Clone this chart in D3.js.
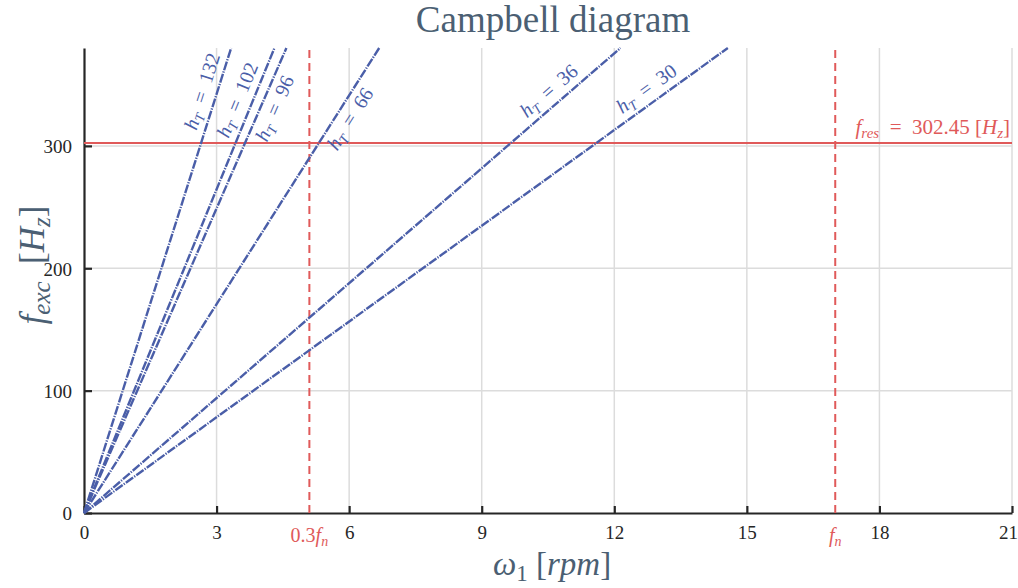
<!DOCTYPE html>
<html>
<head>
<meta charset="utf-8">
<script src="https://cdn.jsdelivr.net/npm/d3@7"></script>
<style>
body { margin: 0; background: #fff; }
svg { display: block; }
</style>
</head>
<body>
<svg id="chart"></svg>
<script>
// harmonic order of each excitation line and where it leaves the top of the plot
let harmonics = [132, 102, 96, 66, 36, 30]
let topSpeed = [3.33, 4.31, 4.58, 6.68, 12.14, 14.57]
let labelFreq = [341, 333, 335, 328, 336, 337]
let labelSide = ['left', 'left', 'right', 'right', 'left', 'left']

let xTicks = [0, 3, 6, 9, 12, 15, 18, 21]
let yTicks = [0, 100, 200, 300]

let speedMarks = [5.1, 17]
let speedMarkLabels = [['0.3', 'f', 'n'], ['', 'f', 'n']]
let fRes = 302.45

let width = 1018
let height = 588
let margin = {top: 48, right: 6, bottom: 75, left: 84}

let blue = '#4a5ea8'
let red = '#e05a5a'
let slate = '#4b5f73'
let font = "'Liberation Serif', 'DejaVu Serif', serif"
let sp = '\u2002'

let svg = d3.select('#chart')
    .attr('width', width)
    .attr('height', height)
    .style('font-family', font)

let xScale = d3.scaleLinear().domain([0, 21]).range([margin.left, width - margin.right])
let yScale = d3.scaleLinear().domain([0, 380]).range([height - margin.bottom, margin.top])

// grid
svg.append('g')
   .selectAll('line')
   .data(xTicks.filter(d => d > 0))
   .enter()
   .append('line')
   .attr('x1', d => xScale(d)).attr('x2', d => xScale(d))
   .attr('y1', yScale(0)).attr('y2', yScale(380))
   .attr('stroke', '#dcdcdc').attr('stroke-width', 1.5)

svg.append('g')
   .selectAll('line')
   .data(yTicks.filter(d => d > 0))
   .enter()
   .append('line')
   .attr('x1', xScale(0)).attr('x2', xScale(21))
   .attr('y1', d => yScale(d)).attr('y2', d => yScale(d))
   .attr('stroke', '#dcdcdc').attr('stroke-width', 1.5)

// axes
let xAxis = d3.axisBottom(xScale).tickValues(xTicks).tickSizeInner(-7).tickSizeOuter(0).tickPadding(13)
let yAxis = d3.axisLeft(yScale).tickValues(yTicks).tickSizeInner(-8).tickSizeOuter(0).tickPadding(12)

let gx = svg.append('g')
    .attr('transform', 'translate(0,' + yScale(0) + ')')
    .call(xAxis)
let gy = svg.append('g')
    .attr('transform', 'translate(' + xScale(0) + ',0)')
    .call(yAxis)

;[gx, gy].forEach(g => {
    g.select('.domain').attr('stroke', '#262626').attr('stroke-width', 2.2)
    g.selectAll('.tick line').attr('stroke', '#262626').attr('stroke-width', 2.2)
    g.selectAll('.tick text')
     .attr('fill', '#262626')
     .style('font-family', font)
     .style('font-size', '19px')
})
gx.selectAll('.tick text').attr('dy', '0.71em')
gx.selectAll('.tick text').filter(d => d == 21).attr('dx', -4)
gy.selectAll('.tick text').attr('dy', '0.36em')

// natural frequency markers
svg.append('g')
   .selectAll('line')
   .data(speedMarks)
   .enter()
   .append('line')
   .attr('x1', d => xScale(d)).attr('x2', d => xScale(d))
   .attr('y1', yScale(0)).attr('y2', yScale(380))
   .attr('stroke', red).attr('stroke-width', 2)
   .attr('stroke-dasharray', '8,5')

speedMarks.forEach((d, i) => {
    let parts = speedMarkLabels[i]
    let t = svg.append('text')
        .attr('x', xScale(d))
        .attr('y', yScale(0) + 29)
        .attr('text-anchor', 'middle')
        .attr('fill', red)
        .style('font-size', '20px')
    t.append('tspan').text(parts[0])
    t.append('tspan').style('font-style', 'italic').text(parts[1])
    t.append('tspan').style('font-style', 'italic').style('font-size', '14px').attr('dy', 4).text(parts[2])
})

// resonance frequency
svg.append('line')
   .attr('x1', xScale(0)).attr('x2', xScale(21))
   .attr('y1', yScale(fRes)).attr('y2', yScale(fRes))
   .attr('stroke', red).attr('stroke-width', 2)

let resText = svg.append('text')
    .attr('x', xScale(21) - 2)
    .attr('y', yScale(fRes) - 9)
    .attr('text-anchor', 'end')
    .attr('fill', red)
    .style('font-size', '21px')
resText.append('tspan').style('font-style', 'italic').text('f')
resText.append('tspan').style('font-style', 'italic').style('font-size', '15px').attr('dy', 4).text('res')
resText.append('tspan').attr('dy', -4).text(sp + '=' + sp + '302.45 [')
resText.append('tspan').style('font-style', 'italic').text('H')
resText.append('tspan').style('font-style', 'italic').style('font-size', '15px').attr('dy', 4).text('z')
resText.append('tspan').attr('dy', -4).text(']')

// excitation lines
let line = d3.line().x(d => xScale(d[0])).y(d => yScale(d[1]))

svg.append('g')
   .selectAll('path')
   .data(topSpeed)
   .enter()
   .append('path')
   .attr('d', d => line([[0, 0], [d, 380]]))
   .attr('fill', 'none')
   .attr('stroke', blue)
   .attr('stroke-width', 2.4)
   .attr('stroke-dasharray', '9,1.3,1.3,1.3')

harmonics.forEach((h, i) => {
    let fx = labelFreq[i] / 380 * topSpeed[i]
    let px = xScale(fx)
    let py = yScale(labelFreq[i])
    let angle = Math.atan2(yScale(0) - yScale(380), xScale(topSpeed[i]) - xScale(0)) * 180 / Math.PI
    let t = svg.append('text')
        .attr('transform', 'translate(' + px + ',' + py + ') rotate(' + (-angle) + ')')
        .attr('text-anchor', 'middle')
        .attr('dy', labelSide[i] == 'left' ? '-0.4em' : '1.0em')
        .attr('fill', blue)
        .style('font-size', '20px')
    t.append('tspan').style('font-style', 'italic').text('h')
    t.append('tspan').style('font-style', 'italic').style('font-size', '14px').attr('dy', 4).text('T')
    t.append('tspan').attr('dy', -4).text(sp + '=' + sp + h)
})

// title and axis labels
svg.append('text')
   .attr('x', 553)
   .attr('y', 32)
   .attr('text-anchor', 'middle')
   .attr('fill', slate)
   .style('font-size', '37px')
   .text('Campbell diagram')

let xl = svg.append('text')
    .attr('x', 552)
    .attr('y', 575)
    .attr('text-anchor', 'middle')
    .attr('fill', slate)
    .style('font-size', '33px')
xl.append('tspan').style('font-style', 'italic').text('ω')
xl.append('tspan').style('font-size', '23px').attr('dy', 6).text('1')
xl.append('tspan').attr('dy', -6).text(' [')
xl.append('tspan').style('font-style', 'italic').text('rpm')
xl.append('tspan').text(']')

let yl = svg.append('text')
    .attr('transform', 'translate(44,265) rotate(-90)')
    .attr('text-anchor', 'middle')
    .attr('fill', slate)
    .style('font-size', '35px')
yl.append('tspan').style('font-style', 'italic').text('f')
yl.append('tspan').style('font-style', 'italic').style('font-size', '25px').attr('dy', 6).text('exc')
yl.append('tspan').attr('dy', -6).text(sp + '[')
yl.append('tspan').style('font-style', 'italic').text('H')
yl.append('tspan').style('font-style', 'italic').style('font-size', '25px').attr('dy', 6).text('z')
yl.append('tspan').attr('dy', -6).text(']')
</script>
</body>
</html>
